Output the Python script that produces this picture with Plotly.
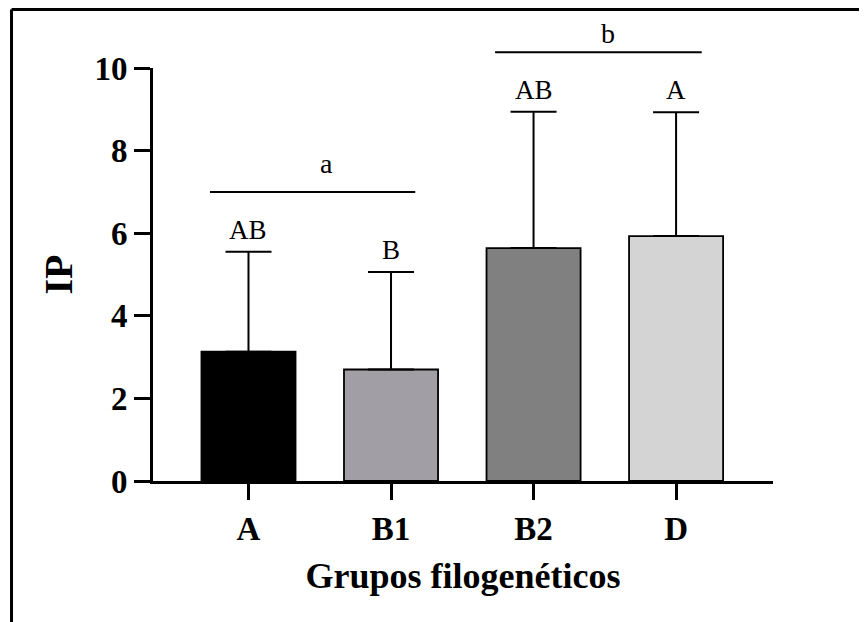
import plotly.graph_objects as go

# ---- data ----
categories = ["A", "B1", "B2", "D"]
means = [3.13, 2.70, 5.64, 5.93]
sd_upper = [2.42, 2.36, 3.30, 3.00]
bar_colors = ["#000000", "#a19fa5", "#808080", "#d4d4d4"]
bar_letters = ["AB", "B", "AB", "A"]
y_ticks = [0, 2, 4, 6, 8, 10]
group_labels = ["a", "b"]
group_spans = [(-0.27, 1.17), (1.73, 3.18)]
group_line_y = [7.0, 10.38]
group_label_x = [0.55, 2.52]

x_pos = list(range(len(categories)))

fig = go.Figure()
fig.add_trace(go.Bar(
    x=x_pos, y=means, width=0.66,
    marker=dict(color=bar_colors, line=dict(color="black", width=1.8)),
    error_y=dict(type="data", symmetric=False, array=sd_upper,
                 arrayminus=[0] * len(means), color="black",
                 thickness=2, width=23),
    showlegend=False,
))

serif = "Liberation Serif, Times New Roman, serif"

# letters above error bars
for xi, m, e, lab in zip(x_pos, means, sd_upper, bar_letters):
    fig.add_annotation(x=xi, y=m + e, text=lab, showarrow=False,
                       yanchor="bottom", yshift=5,
                       font=dict(family=serif, size=27, color="black"))

# group brackets
YMAX = 10.0
label_shifts = [11, 1]
for lab, (x0, x1), ly, lx, sh in zip(group_labels, group_spans, group_line_y,
                                     group_label_x, label_shifts):
    fig.add_shape(type="line", xref="x", yref="paper", x0=x0, x1=x1,
                  y0=ly / YMAX, y1=ly / YMAX, line=dict(color="black", width=2))
    fig.add_annotation(x=lx, y=ly / YMAX, xref="x", yref="paper", text=lab,
                       showarrow=False, yanchor="bottom", yshift=sh,
                       font=dict(family=serif, size=28, color="black"))

# outer frame (top and left lines)
fig.add_shape(type="line", xref="paper", yref="paper", x0=-0.2282, x1=1.16,
              y0=1.1416, y1=1.1416, line=dict(color="black", width=3))
fig.add_shape(type="line", xref="paper", yref="paper", x0=-0.2282, x1=-0.2282,
              y0=1.1416, y1=-0.36, line=dict(color="black", width=3))

fig.update_layout(
    width=859, height=614,
    margin=dict(l=145, r=94, t=60, b=141),
    plot_bgcolor="white", paper_bgcolor="white",
    xaxis=dict(
        range=[-0.67, 3.68], tickmode="array", tickvals=x_pos, ticktext=categories,
        showline=True, linecolor="black", linewidth=3,
        ticks="outside", ticklen=16, tickwidth=3, tickcolor="black",
        showgrid=False, zeroline=False,
        tickfont=dict(family=serif, size=33, color="black", weight="bold"),
        title=dict(text="Grupos filogenéticos", standoff=18,
                   font=dict(family=serif, size=36, color="black", weight="bold")),
    ),
    yaxis=dict(
        range=[0, 10], tickmode="array", tickvals=y_ticks,
        showline=True, linecolor="black", linewidth=3,
        ticks="outside", ticklen=16, tickwidth=3, tickcolor="black",
        showgrid=False, zeroline=False,
        tickfont=dict(family=serif, size=33, color="black", weight="bold"),
        title=dict(text="IP", standoff=10,
                   font=dict(family=serif, size=40, color="black", weight="bold")),
    ),
)

fig.write_html("out.html")
